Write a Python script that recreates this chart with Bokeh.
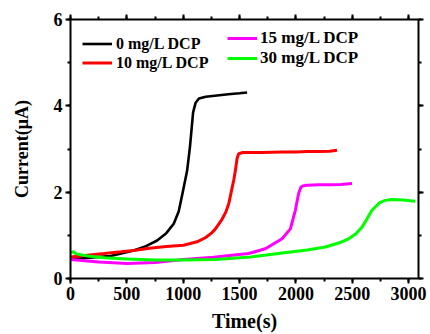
from bokeh.plotting import figure
from bokeh.models import Range1d, LinearAxis, SingleIntervalTicker, Legend, LegendItem, CustomLabelingPolicy
from bokeh.embed import file_html
from bokeh.resources import INLINE

# ---- data ----
x_0 = [0, 100, 200, 355, 450, 561, 670, 769, 850, 916, 960, 996, 1035, 1060, 1088, 1110, 1140, 1200, 1300, 1400, 1500, 1567]
y_0 = [0.45, 0.47, 0.49, 0.52, 0.58, 0.65, 0.75, 0.88, 1.05, 1.27, 1.55, 2.0, 2.5, 3.05, 3.85, 4.07, 4.17, 4.21, 4.24, 4.27, 4.29, 4.31]

x_10 = [0, 148, 300, 450, 559, 700, 850, 1002, 1123, 1200, 1250, 1286, 1340, 1380, 1404, 1430, 1450, 1463, 1478, 1492, 1530, 1700, 1877, 2000, 2100, 2200, 2300, 2365]
y_10 = [0.5, 0.54, 0.58, 0.62, 0.65, 0.7, 0.74, 0.77, 0.85, 0.95, 1.05, 1.15, 1.35, 1.55, 1.73, 2.05, 2.3, 2.5, 2.78, 2.89, 2.92, 2.92, 2.93, 2.93, 2.94, 2.94, 2.95, 2.97]

x_15 = [0, 250, 503, 750, 1005, 1268, 1581, 1729, 1877, 1951, 1995, 2024, 2045, 2069, 2100, 2200, 2300, 2400, 2498]
y_15 = [0.44, 0.38, 0.35, 0.37, 0.44, 0.49, 0.58, 0.69, 0.92, 1.15, 1.58, 1.97, 2.12, 2.15, 2.16, 2.17, 2.17, 2.18, 2.2]

x_30 = [0, 25, 50, 150, 300, 500, 750, 1000, 1286, 1600, 1877, 2100, 2261, 2400, 2468, 2530, 2587, 2630, 2675, 2740, 2793, 2850, 2950, 3059]
y_30 = [0.6, 0.62, 0.57, 0.52, 0.48, 0.45, 0.43, 0.43, 0.44, 0.5, 0.59, 0.66, 0.73, 0.84, 0.92, 1.03, 1.19, 1.38, 1.58, 1.75, 1.81, 1.83, 1.82, 1.79]

labels = ["0 mg/L DCP", "10 mg/L DCP", "15 mg/L DCP", "30 mg/L DCP"]
colors = ["#000000", "#FF0000", "#FF00FF", "#00FF00"]

FONT = "'Liberation Serif', 'Times New Roman', serif"

p = figure(width=430, height=334, output_backend="svg", toolbar_location=None,
           x_range=Range1d(0, 3088), y_range=Range1d(0, 6),
           min_border_left=70, min_border_right=12, min_border_top=19, min_border_bottom=56)
p.outline_line_color = None
p.xgrid.visible = False
p.ygrid.visible = False
p.background_fill_color = "white"
p.border_fill_color = "white"

r0 = p.line(x_0, y_0, line_color=colors[0], line_width=2.6)
r1 = p.line(x_10, y_10, line_color=colors[1], line_width=3)
r2 = p.line(x_15, y_15, line_color=colors[2], line_width=3)
r3 = p.line(x_30, y_30, line_color=colors[3], line_width=3)

def style_axis(ax, labels_on=True):
    ax.axis_line_width = 2
    ax.axis_line_color = "black"
    ax.major_tick_line_width = 2
    ax.minor_tick_line_width = 2
    ax.major_tick_out = 5
    ax.major_tick_in = 0
    ax.minor_tick_out = 3
    ax.minor_tick_in = 0
    ax.major_label_text_font = FONT
    ax.major_label_text_font_style = "bold"
    ax.major_label_text_color = "black"
    ax.axis_label_text_font = FONT
    ax.axis_label_text_font_style = "bold"
    ax.axis_label_text_color = "black"
    if labels_on:
        ax.major_label_text_font_size = "18px"
        ax.major_label_standoff = 3
    else:
        ax.major_label_text_font_size = "1px"
        ax.major_label_standoff = 0
        ax.major_label_policy = CustomLabelingPolicy(code="return new Set()")

p.xaxis.ticker = SingleIntervalTicker(interval=500, num_minor_ticks=2)
p.yaxis.ticker = SingleIntervalTicker(interval=2, num_minor_ticks=2)
style_axis(p.xaxis[0])
style_axis(p.yaxis[0])
p.xaxis.axis_label = "Time(s)"
p.yaxis.axis_label = "Current(μA)"
p.xaxis.axis_label_text_font_size = "20px"
p.yaxis.axis_label_text_font_size = "18px"
p.xaxis.axis_label_standoff = 7
p.yaxis.axis_label_standoff = 19

top = LinearAxis(ticker=SingleIntervalTicker(interval=500, num_minor_ticks=2))
style_axis(top, labels_on=False)
p.add_layout(top, "above")
right = LinearAxis(ticker=SingleIntervalTicker(interval=2, num_minor_ticks=2))
style_axis(right, labels_on=False)
p.add_layout(right, "right")

def make_legend(items, loc, size, standoff, row_h):
    lg = Legend(items=items, location=loc, padding=0, margin=0, spacing=0,
                glyph_width=30, glyph_height=row_h, label_height=row_h,
                label_standoff=standoff,
                label_text_font=FONT, label_text_font_style="bold",
                label_text_font_size=size, label_text_color="black",
                border_line_color=None, background_fill_alpha=0)
    p.add_layout(lg, "center")

make_legend([LegendItem(label=labels[0], renderers=[r0]),
             LegendItem(label=labels[1], renderers=[r1])], (12, 206), "16px", 4, 19)
make_legend([LegendItem(label=labels[2], renderers=[r2]),
             LegendItem(label=labels[3], renderers=[r3])], (157, 210), "17px", 3, 20)

open("out.html", "w").write(file_html(p, INLINE))
